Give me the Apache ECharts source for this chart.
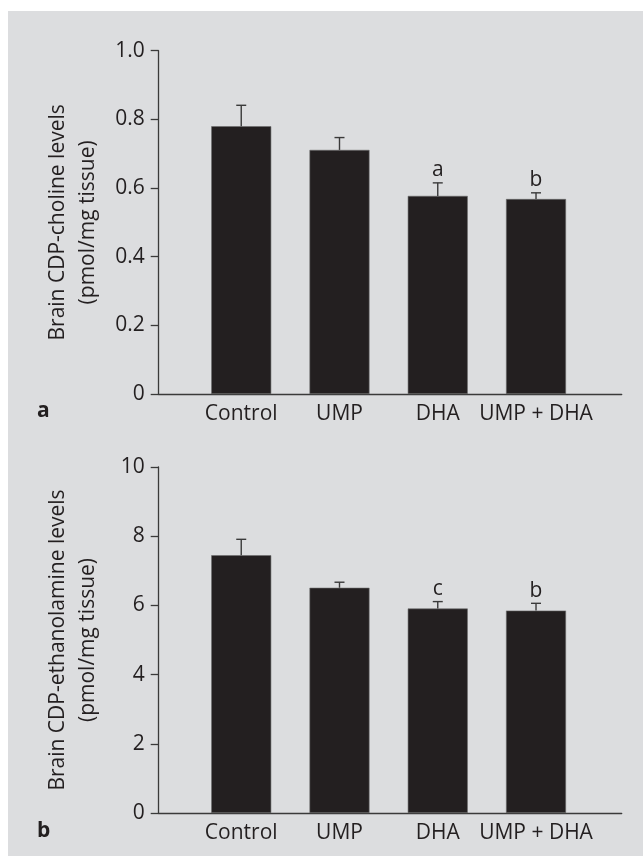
<!DOCTYPE html>
<html>
<head>
<meta charset="utf-8">
<script src="https://cdn.jsdelivr.net/npm/echarts@6/dist/echarts.min.js"></script>
<style>
html,body{margin:0;padding:0;background:#fff;}
#c{width:643px;height:863px;}
</style>
</head>
<body>
<div id="c"></div>
<script>
// ---- data ----
const categories = ['Control', 'UMP', 'DHA', 'UMP + DHA'];
const cholineMean = [0.78, 0.711, 0.577, 0.568];
const cholineErr = [0.061, 0.036, 0.038, 0.018];
const cholineSig = ['', '', 'a', 'b'];
const ethanolMean = [7.45, 6.51, 5.91, 5.85];
const ethanolErr = [0.46, 0.16, 0.20, 0.21];
const ethanolSig = ['', '', 'c', 'b'];
const cholineTicks = [0, 0.2, 0.4, 0.6, 0.8, 1.0];
const ethanolTicks = [0, 2, 4, 6, 8, 10];
const yTitleA = 'Brain CDP-choline levels\n(pmol/mg tissue)';
const yTitleB = 'Brain CDP-ethanolamine levels\n(pmol/mg tissue)';
const panelLetters = ['a', 'b'];

// ---- styling ----
const FONT = 'Open Sans';
const TXT = '#231f20';
const AXC = '#3a3a3a';
const BAR = '#231f20';

const chart = echarts.init(document.getElementById('c'), null, {renderer: 'canvas'});

function xAxisCfg(gi) {
  return {
    gridIndex: gi, type: 'value', min: -0.84, max: 3.872,
    axisLine: {show: true, onZero: false, lineStyle: {color: AXC, width: 1.3}},
    axisTick: {show: false},
    splitLine: {show: false},
    axisLabel: {
      customValues: categories.map((c, i) => i),
      formatter: v => categories[Math.round(v)] || '',
      color: TXT, fontFamily: FONT, fontSize: 21, margin: 10, hideOverlap: false
    }
  };
}
function yAxisCfg(gi, ticks, name, dec) {
  return {
    gridIndex: gi, type: 'value', min: ticks[0], max: ticks[ticks.length - 1],
    interval: ticks[1] - ticks[0],
    name: name, nameLocation: 'middle', nameRotate: 90, nameGap: 56,
    nameTextStyle: {color: TXT, fontFamily: FONT, fontSize: 21, lineHeight: 30, align: 'center'},
    axisLine: {show: true, onZero: false, lineStyle: {color: AXC, width: 1.3}},
    axisTick: {show: true, length: 8, lineStyle: {color: AXC, width: 1.3}},
    splitLine: {show: false},
    axisLabel: {
      color: TXT, fontFamily: FONT, fontSize: 21, margin: 14,
      formatter: v => (v === 0 ? '0' : v.toFixed(dec))
    }
  };
}
function barSeries(gi, means) {
  return {
    type: 'bar', xAxisIndex: gi, yAxisIndex: gi, barWidth: 60,
    data: means.map((m, i) => [i, m]),
    itemStyle: {color: BAR, borderColor: '#6b6b6b', borderWidth: 0.6},
    silent: true, z: 3
  };
}
function errSeries(gi, means, errs, sig) {
  return {
    type: 'custom', xAxisIndex: gi, yAxisIndex: gi, z: 4, silent: true,
    data: means.map((m, i) => [i, m, m + errs[i]]),
    renderItem: function (params, api) {
      const i = api.value(0);
      const b = api.coord([i, api.value(1)]);
      const t = api.coord([i, api.value(2)]);
      const children = [
        {type: 'line', shape: {x1: b[0], y1: b[1], x2: t[0], y2: t[1]}, style: {stroke: AXC, lineWidth: 1.4}},
        {type: 'line', shape: {x1: t[0] - 5, y1: t[1], x2: t[0] + 5, y2: t[1]}, style: {stroke: AXC, lineWidth: 1.4}}
      ];
      const s = sig[params.dataIndex];
      if (s) {
        children.push({type: 'text', style: {text: s, x: t[0], y: t[1] - 2, align: 'center', verticalAlign: 'bottom',
          fill: TXT, font: '21px "' + FONT + '"'}});
      }
      return {type: 'group', children: children};
    }
  };
}

const option = {
  animation: false,
  backgroundColor: '#ffffff',
  graphic: [
    {type: 'rect', shape: {x: 8, y: 11, width: 635, height: 845}, style: {fill: '#dcdddf'}, z: -10, silent: true},
    {type: 'text', left: 37, top: 401, style: {text: panelLetters[0], fill: TXT, font: 'bold 21px "' + FONT + '"'}},
    {type: 'text', left: 37, top: 821, style: {text: panelLetters[1], fill: TXT, font: 'bold 21px "' + FONT + '"'}}
  ],
  grid: [
    {left: 158.7, width: 463, top: 50.7, height: 343.3},
    {left: 158.7, width: 463, top: 467, height: 346}
  ],
  xAxis: [xAxisCfg(0), xAxisCfg(1)],
  yAxis: [yAxisCfg(0, cholineTicks, yTitleA, 1), yAxisCfg(1, ethanolTicks, yTitleB, 0)],
  series: [
    barSeries(0, cholineMean), errSeries(0, cholineMean, cholineErr, cholineSig),
    barSeries(1, ethanolMean), errSeries(1, ethanolMean, ethanolErr, ethanolSig)
  ]
};
chart.setOption(option);
</script>
</body>
</html>
